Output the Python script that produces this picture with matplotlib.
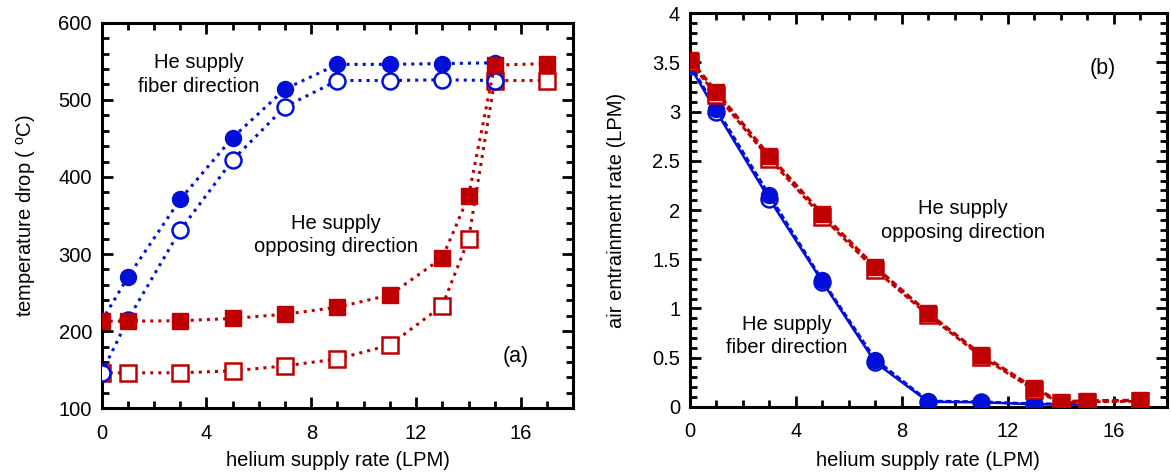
import matplotlib
matplotlib.use("Agg")
import matplotlib.pyplot as plt
from matplotlib.ticker import MultipleLocator, FormatStrFormatter

plt.rcParams['font.family'] = ['Liberation Sans', 'DejaVu Sans']
plt.rcParams['mathtext.fontset'] = 'custom'
plt.rcParams['mathtext.rm'] = 'Liberation Sans'

BLUE = '#0010d8'
RED = '#c00000'

# ---- panel (a): temperature drop ----
x_fiber = [0, 1, 3, 5, 7, 9, 11, 13, 15]
temp_fiber_filled = [213, 270, 371, 451, 514, 546, 546, 547, 548]
temp_fiber_open = [146, 215, 331, 422, 491, 525, 525, 526, 525]

x_opp = [0, 1, 3, 5, 7, 9, 11, 13, 14, 15, 17]
temp_opp_filled = [213, 213, 213.5, 216.5, 222, 231, 247, 295, 375, 545, 547]
temp_opp_open = [146, 146, 146, 148.5, 155, 164, 182, 233, 319, 525, 525]

# ---- panel (b): air entrainment rate ----
air_fiber_filled = [3.48, 3.03, 2.15, 1.285, 0.48, 0.058, 0.05, 0.03, 0.03]
air_fiber_open = [3.46, 3.0, 2.11, 1.27, 0.45, 0.05, 0.045, 0.025, 0.02]
air_opp_filled = [3.53, 3.2, 2.55, 1.96, 1.42, 0.95, 0.53, 0.19, 0.05, 0.06, 0.065]
air_opp_open = [3.50, 3.17, 2.52, 1.93, 1.39, 0.93, 0.51, 0.17, 0.04, 0.05, 0.055]

xticks = [0, 4, 8, 12, 16]

fig = plt.figure(figsize=(11.71, 4.72), dpi=100)
ax1 = fig.add_axes([0.0868, 0.135, 0.4896 - 0.0868, 0.9519 - 0.135])
ax2 = fig.add_axes([0.5892, 0.1383, 0.9963 - 0.5892, 0.9718 - 0.1383])

FS = 14.5
ms = 11.5

def style(ax, ymaj, ymin):
    ax.set_xlim(0, 18)
    ax.set_xticks(xticks)
    ax.xaxis.set_minor_locator(MultipleLocator(1))
    ax.yaxis.set_major_locator(MultipleLocator(ymaj))
    ax.yaxis.set_minor_locator(MultipleLocator(ymin))
    ax.yaxis.set_major_formatter(FormatStrFormatter('%g'))
    ax.tick_params(which='both', direction='in', top=True, right=True,
                   labelsize=FS, width=2, pad=7)
    ax.tick_params(axis='x', which='both', pad=11)
    ax.tick_params(which='major', length=8)
    ax.tick_params(which='minor', length=5)
    for s in ax.spines.values():
        s.set_linewidth(2.2)

# panel (a)
ax1.plot(x_fiber, temp_fiber_filled, ls=':', lw=2.2, color=BLUE, marker='o',
         ms=ms, mfc=BLUE, mec=BLUE, zorder=3)
ax1.plot(x_opp, temp_opp_open, ls=':', lw=2.2, color=RED, marker='s',
         ms=ms, mfc='white', mec=RED, mew=1.8, zorder=4)
ax1.plot(x_fiber, temp_fiber_open, ls=':', lw=2.2, color=BLUE, marker='o',
         ms=ms, mfc='white', mec=BLUE, mew=1.8, zorder=5)
ax1.plot(x_opp, temp_opp_filled, ls=':', lw=2.2, color=RED, marker='s',
         ms=ms, mfc=RED, mec=RED, zorder=6)
ax1.set_ylim(100, 600)
style(ax1, 100, 20)
ax1.set_xlabel('helium supply rate (LPM)', fontsize=FS)
ax1.set_ylabel('temperature drop ( $^{\\mathrm{o}}$C)', fontsize=FS)
ax1.xaxis.set_label_coords(0.5, -0.11)
ax1.yaxis.set_label_coords(-0.135, 0.5)
ax1.text(3.7, 533, 'He supply\nfiber direction', fontsize=FS, ha='center',
         va='center', linespacing=1.3)
ax1.text(8.95, 325, 'He supply\nopposing direction', fontsize=FS, ha='center',
         va='center', linespacing=1.3)
ax1.text(15.8, 167, '(a)', fontsize=FS + 1, ha='center', va='center')

# panel (b)
ax2.plot(x_fiber, air_fiber_open, ls='-', lw=1.8, color=BLUE, marker='o',
         ms=ms, mfc='white', mec=BLUE, mew=1.8, zorder=3)
ax2.plot(x_fiber, air_fiber_filled, ls='--', lw=2.0, color=BLUE, marker='o',
         ms=ms, mfc=BLUE, mec=BLUE, dashes=(2, 1), zorder=4)
ax2.plot(x_opp, air_opp_open, ls='--', lw=2.0, color=RED, marker='s',
         ms=ms, mfc='white', mec=RED, mew=1.8, dashes=(2, 1), zorder=5)
ax2.plot(x_opp, air_opp_filled, ls='--', lw=2.4, color=RED, marker='s',
         ms=ms, mfc=RED, mec=RED, dashes=(2, 1), zorder=6)
ax2.set_ylim(0, 4)
style(ax2, 0.5, 0.1)
ax2.set_xlabel('helium supply rate (LPM)', fontsize=FS)
ax2.set_ylabel('air entrainment rate (LPM)', fontsize=FS)
ax2.xaxis.set_label_coords(0.5, -0.112)
ax2.yaxis.set_label_coords(-0.135, 0.5)
ax2.text(10.3, 1.895, 'He supply\nopposing direction', fontsize=FS,
         ha='center', va='center', linespacing=1.3)
ax2.text(3.65, 0.72, 'He supply\nfiber direction', fontsize=FS,
         ha='center', va='center', linespacing=1.3)
ax2.text(15.6, 3.44, '(b)', fontsize=FS + 1, ha='center', va='center')

fig.savefig('out.png', dpi=100)
